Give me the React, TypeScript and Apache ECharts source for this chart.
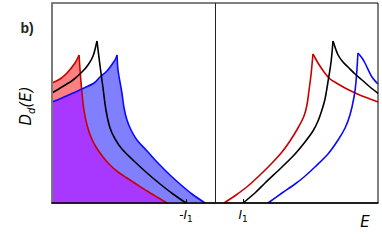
import React, { useEffect, useRef } from "react";
import * as echarts from "echarts";

// Energy axis normalised to [-1, 1]; density of states normalised to [0, 1]
const tickValues = [-0.178, 0.172];
const tickNames = ["-I", "I"];

const leftRed: number[][] = [
  [-1.0, 0.6], [-0.951, 0.62], [-0.908, 0.65], [-0.859, 0.7], [-0.834, 0.74],
  [-0.828, 0.665], [-0.816, 0.55], [-0.804, 0.465], [-0.785, 0.39], [-0.761, 0.33],
  [-0.73, 0.28], [-0.687, 0.23], [-0.644, 0.19], [-0.595, 0.155], [-0.54, 0.125],
  [-0.479, 0.0925], [-0.417, 0.06], [-0.356, 0.03], [-0.294, 0],
];

const leftBlue: number[][] = [
  [-1.0, 0.505], [-0.939, 0.525], [-0.871, 0.55], [-0.804, 0.575], [-0.742, 0.6],
  [-0.706, 0.63], [-0.663, 0.66], [-0.626, 0.7], [-0.61, 0.72], [-0.601, 0.74],
  [-0.595, 0.665], [-0.571, 0.55], [-0.558, 0.475], [-0.54, 0.415], [-0.515, 0.365],
  [-0.479, 0.315], [-0.417, 0.26], [-0.356, 0.205], [-0.276, 0.14], [-0.215, 0.095],
  [-0.141, 0.045], [-0.061, 0],
];

const leftBlack: number[][] = [
  [-1.0, 0.55], [-0.939, 0.58], [-0.871, 0.615], [-0.816, 0.655], [-0.779, 0.69],
  [-0.748, 0.735], [-0.724, 0.81], [-0.706, 0.69], [-0.687, 0.575], [-0.669, 0.465],
  [-0.644, 0.375], [-0.613, 0.32], [-0.571, 0.27], [-0.497, 0.21], [-0.417, 0.15],
  [-0.337, 0.095], [-0.258, 0.045], [-0.178, 0],
];

const rightRed: number[][] = [
  [0.055, 0], [0.129, 0.04], [0.202, 0.085], [0.276, 0.14], [0.35, 0.2],
  [0.411, 0.255], [0.46, 0.31], [0.509, 0.375], [0.546, 0.435], [0.564, 0.49],
  [0.577, 0.565], [0.589, 0.64], [0.601, 0.745], [0.632, 0.7], [0.669, 0.655],
  [0.706, 0.62], [0.755, 0.595], [0.798, 0.575], [0.847, 0.555], [0.902, 0.535],
  [0.951, 0.52], [1.0, 0.505],
];

const rightBlack: number[][] = [
  [0.172, 0], [0.245, 0.05], [0.307, 0.1], [0.411, 0.18], [0.491, 0.245],
  [0.552, 0.305], [0.601, 0.36], [0.632, 0.41], [0.656, 0.465], [0.675, 0.52],
  [0.693, 0.605], [0.712, 0.705], [0.724, 0.81], [0.755, 0.74], [0.785, 0.705],
  [0.816, 0.68], [0.859, 0.645], [0.902, 0.615], [0.951, 0.58], [1.0, 0.548],
];

const rightBlue: number[][] = [
  [0.325, 0], [0.411, 0.05], [0.491, 0.095], [0.546, 0.13], [0.613, 0.18],
  [0.693, 0.245], [0.755, 0.315], [0.798, 0.375], [0.828, 0.44], [0.853, 0.53],
  [0.865, 0.605], [0.877, 0.75], [0.902, 0.725], [0.92, 0.7], [0.963, 0.63],
  [1.0, 0.595],
];

// point where the falling red branch meets the rising blue branch (left panel)
const leftCrossing: number[] = [-0.818, 0.57];

const RED_LINE = "#c80000";
const BLUE_LINE = "#0a0aff";
const RED_FILL = "#ff8080";
const BLUE_FILL = "#8080ff";
const PURPLE_FILL = "#a838ff";
const SMOOTH = 0.3;

// split a curve into its two branches at the van Hove peak (shared point)
function branches(data: number[][]): number[][][] {
  let k = 0;
  data.forEach((p, i) => {
    if (p[1] > data[k][1]) k = i;
  });
  return [data.slice(0, k + 1), data.slice(k)];
}

export default function App() {
  const ref = useRef<HTMLDivElement>(null);

  useEffect(() => {
    if (!ref.current) return;
    const chart = echarts.init(ref.current, null, { renderer: "svg" });

    const overlap = [
      ...leftBlue.filter((p) => p[0] < leftCrossing[0]),
      leftCrossing,
      ...leftRed.filter((p) => p[0] > leftCrossing[0]),
    ];

    const fill = (name: string, data: number[][], color: string) => ({
      name,
      type: "line",
      data,
      showSymbol: false,
      symbol: "none",
      silent: true,
      lineStyle: { width: 0, opacity: 0 },
      areaStyle: { color, opacity: 1 },
      z: 1,
    });
    const lines = (name: string, data: number[][], color: string) =>
      branches(data).map((b, j) => ({
        name: name + j,
        type: "line",
        data: b,
        smooth: SMOOTH,
        showSymbol: false,
        symbol: "none",
        silent: true,
        lineStyle: { width: 1.6, color },
        itemStyle: { color },
        z: 3,
      }));

    const subRich = {
      n: { fontSize: 12, fontFamily: "DejaVu Sans", color: "#000", lineHeight: 16 },
      i: { fontSize: 12, fontFamily: "DejaVu Sans", fontStyle: "italic", color: "#000", lineHeight: 16 },
      s: { fontSize: 9, fontFamily: "DejaVu Sans", color: "#000", verticalAlign: "bottom", lineHeight: 11 },
    };

    chart.setOption({
      animation: false,
      grid: { left: 52, right: 4, top: 3, bottom: 37, show: true, borderColor: "#000", borderWidth: 1 },
      xAxis: {
        type: "value",
        min: -1,
        max: 1,
        z: 5,
        splitLine: { show: false },
        axisLine: { show: true, lineStyle: { color: "#000", width: 1.5 } },
        axisTick: { show: true, customValues: tickValues, inside: true, length: 4, lineStyle: { color: "#000", width: 1 } },
        axisLabel: {
          show: true,
          customValues: tickValues,
          margin: 4,
          formatter: (v: number) => {
            const nm = tickNames[v < 0 ? 0 : 1];
            return nm.startsWith("-") ? "{n|-}{i|I}{s|1}" : "{i|I}{s|1}";
          },
          rich: subRich,
        },
      },
      yAxis: {
        type: "value",
        min: 0,
        max: 1,
        z: 5,
        splitLine: { show: false },
        axisLine: { show: true, onZero: false, lineStyle: { color: "#7a7a7a", width: 2 } },
        axisTick: { show: false },
        axisLabel: { show: false },
      },
      series: [
        fill("blueFill", leftBlue, BLUE_FILL),
        fill("redFill", leftRed, RED_FILL),
        fill("overlapFill", overlap, PURPLE_FILL),
        ...lines("leftRed", leftRed, RED_LINE),
        ...lines("leftBlue", leftBlue, BLUE_LINE),
        ...lines("leftBlack", leftBlack, "#000"),
        ...lines("rightRed", rightRed, RED_LINE),
        ...lines("rightBlue", rightBlue, BLUE_LINE),
        ...lines("rightBlack", rightBlack, "#000"),
        {
          name: "zero",
          type: "line",
          data: [],
          silent: true,
          markLine: {
            silent: true,
            symbol: "none",
            label: { show: false },
            lineStyle: { color: "#222", width: 1, type: "solid" },
            data: [{ xAxis: 0 }],
          },
          z: 4,
        },
      ],
      graphic: [
        {
          type: "text",
          x: 27,
          y: 28,
          style: {
            text: "b)",
            fontSize: 14,
            fontWeight: "bold",
            fontFamily: "Liberation Sans",
            fill: "#222",
            align: "center",
            verticalAlign: "middle",
          },
        },
        {
          type: "text",
          x: 26,
          y: 106,
          rotation: Math.PI / 2,
          style: {
            text: "{a|D}{b|d}{a|(E)}",
            align: "center",
            verticalAlign: "middle",
            rich: {
              a: { fontSize: 15, fontFamily: "DejaVu Sans", fontStyle: "italic", fill: "#000", lineHeight: 20 },
              b: { fontSize: 10, fontFamily: "DejaVu Sans", fontStyle: "italic", fill: "#000", verticalAlign: "bottom", lineHeight: 12 },
            },
          },
        },
        {
          type: "text",
          x: 365,
          y: 222,
          style: {
            text: "E",
            fontSize: 15,
            fontFamily: "DejaVu Sans",
            fontStyle: "italic",
            fill: "#000",
            align: "center",
            verticalAlign: "middle",
          },
        },
      ],
    });

    return () => chart.dispose();
  }, []);

  return (
    <div
      ref={ref}
      style={{ position: "fixed", left: 0, top: 0, width: 382, height: 240, background: "#fff" }}
    />
  );
}
